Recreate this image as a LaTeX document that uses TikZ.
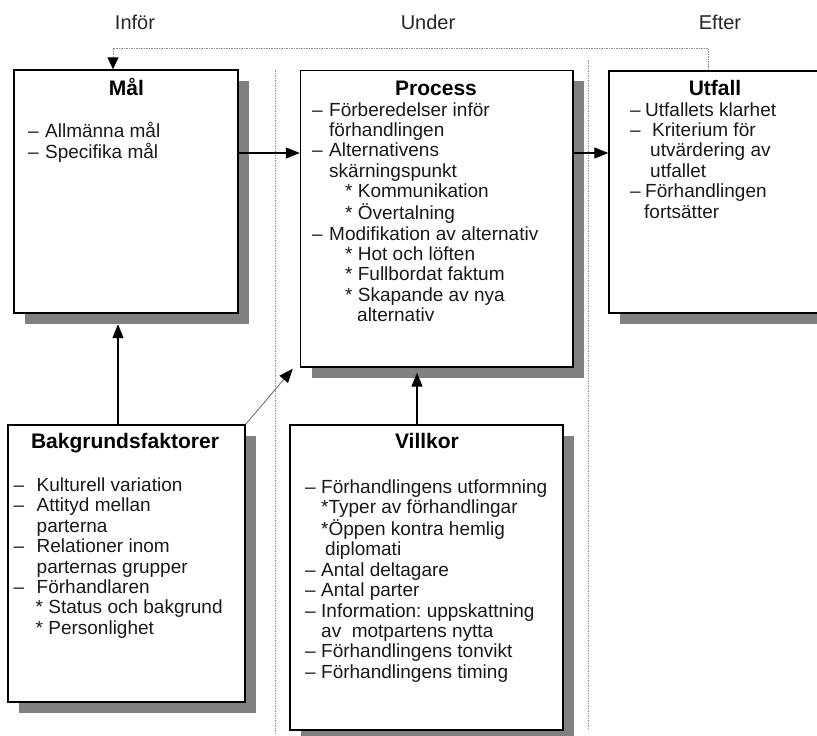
\documentclass[tikz,border=0pt]{standalone}
\usepackage{fontspec}
\setmainfont{Liberation Sans}
\usetikzlibrary{arrows.meta,shadows}
\frenchspacing

% a block of left-aligned lines whose baseline is the first line
\newcommand\boxlines[1]{\begin{tabular}[t]{@{}l@{}}#1\end{tabular}}
% indented continuation line
\newcommand\ind[1]{\hspace*{#1pt}}
% dashed list entry: dash, then text at a fixed offset
\newcommand\dsh[2]{\makebox[#1pt][l]{–}#2}

\begin{document}
\begin{tikzpicture}[x=1pt,y=-1pt,
  panel/.style={draw=black, line width=1.4pt, fill=white, inner sep=0pt,
    drop shadow={shadow xshift=11pt, shadow yshift=-10.5pt,
                 fill=black!50, opacity=1}},
  heading/.style={font=\fontsize{21}{24}\selectfont\bfseries,
                  inner sep=0pt, anchor=base},
  phase/.style={font=\fontsize{20}{24}\selectfont, text=black!85,
                inner sep=0pt, anchor=base},
  body/.style={font=\fontsize{19}{20.4}\selectfont, text=black!90,
               inner sep=0pt, anchor=base west},
  flow/.style={line width=1.3pt, draw=black,
               -{Triangle[length=14pt,width=11pt]}},
  thinflow/.style={line width=0.9pt, draw=black!55,
               -{Triangle[length=14pt,width=11pt,color=black]}},
  feedback/.style={line width=1pt, draw=black!45,
               dash pattern=on 1.5pt off 1pt,
               -{Triangle[length=12pt,width=11pt,color=black]}},
  divider/.style={line width=1pt, draw=black!40,
               dash pattern=on 1.5pt off 1pt}]

\useasboundingbox (0,0) rectangle (817,736);
\fill[white] (0,0) rectangle (817,736);
\clip (0,0) rectangle (817,736);

% phase labels
\node[phase] (pBefore) at (135,30) {Inför};
\node[phase] (pDuring) at (428,30) {Under};
\node[phase] (pAfter)  at (720,30) {Efter};

% phase dividers
\draw[divider] (275,70) -- (275,733);
\draw[divider] (588,60) -- (588,730);

% panels
\node[panel, minimum width=224pt, minimum height=243pt] (mal)  at (126,191.5) {};
\node[panel, minimum width=272.5pt, minimum height=296.5pt] (proc) at (436.75,218.75) {};
\node[panel, minimum width=212pt, minimum height=242pt] (utf)  at (715,192) {};
\node[panel, minimum width=237pt, minimum height=277pt] (bak)  at (126.5,563.5) {};
\node[panel, minimum width=273pt, minimum height=305pt] (vil)  at (426.5,577.5) {};

% titles
\node[heading] (malT)  at (126.5,95) {Mål};
\node[heading] (procT) at (436,95)   {Process};
\node[heading] (utfT)  at (715,95)   {Utfall};
\node[heading] (bakT)  at (125,448)  {Bakgrundsfaktorer};
\node[heading] (vilT)  at (427,448)  {Villkor};

% contents
\node[body] (malB) at (28,137) {\boxlines{%
  \dsh{17}{Allmänna mål}\\
  \dsh{17}{Specifika mål}}};

\node[body] (procB) at (312,116) {\boxlines{%
  \dsh{17}{Förberedelser inför}\\
  \ind{17}förhandlingen\\
  \dsh{17}{Alternativens}\\
  \ind{17}skärningspunkt\\
  \ind{33}* Kommunikation\\
  \ind{33}* Övertalning\\
  \dsh{17}{Modifikation av alternativ}\\
  \ind{33}* Hot och löften\\
  \ind{33}* Fullbordat faktum\\
  \ind{33}* Skapande av nya\\
  \ind{45}alternativ}};

\node[body] (utfB) at (630,116) {\boxlines{%
  \dsh{15}{Utfallets klarhet}\\
  \dsh{22}{Kriterium för}\\
  \ind{20}utvärdering av\\
  \ind{20}utfallet\\
  \dsh{15}{Förhandlingen}\\
  \ind{14}fortsätter}};

\node[body] (bakB) at (13.5,491.5) {\boxlines{%
  \dsh{23}{Kulturell variation}\\
  \dsh{23}{Attityd mellan}\\
  \ind{23}parterna\\
  \dsh{23}{Relationer inom}\\
  \ind{23}parternas grupper\\
  \dsh{23}{Förhandlaren}\\
  \ind{22}* Status och bakgrund\\
  \ind{22}* Personlighet}};

\node[body] (vilB) at (305,493) {\boxlines{%
  \dsh{16}{Förhandlingens utformning}\\
  \ind{16}*Typer av förhandlingar\\
  \ind{16}*Öppen kontra hemlig\\
  \ind{20}diplomati\\
  \dsh{16}{Antal deltagare}\\
  \dsh{16}{Antal parter}\\
  \dsh{16}{Information: uppskattning}\\
  \ind{16}av\ \ motpartens nytta\\
  \dsh{16}{Förhandlingens tonvikt}\\
  \dsh{16}{Förhandlingens timing}}};

% connectors
\coordinate (rowA) at (0,153);
\coordinate (colA) at (118,0);
\coordinate (colB) at (417,0);
\coordinate (fbR)  at (708,48);
\coordinate (fbL)  at (113,48);

\draw[flow] (mal.east |- rowA) -- (proc.west |- rowA);
\draw[flow] (proc.east |- rowA) -- (utf.west |- rowA);
\draw[flow] (bak.north -| colA) -- ([yshift=-10.5pt]mal.south -| colA);
\draw[flow] (vil.north -| colB) -- ([yshift=-5pt]proc.south -| colB);
\draw[thinflow] (bak.north east) -- ([xshift=-7pt,yshift=-1pt]proc.south west);
\draw[feedback] (utf.north -| fbR) -- (fbR) -- (fbL) -- (mal.north -| fbL);

\end{tikzpicture}
\end{document}
